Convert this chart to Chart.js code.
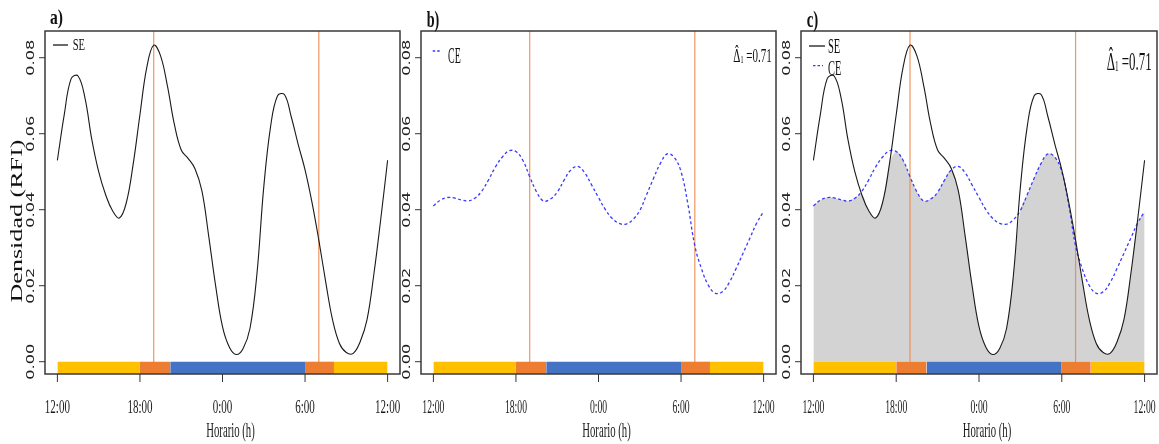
<!DOCTYPE html>
<html>
<head>
<meta charset="utf-8">
<script src="https://cdn.jsdelivr.net/npm/chart.js@4/dist/chart.umd.min.js"></script>
<style>
  html, body { margin: 0; padding: 0; background: #fff; }
  #wrap { position: relative; width: 1159px; height: 444px; overflow: hidden; }
  canvas { position: absolute; left: 0; top: 0; }
</style>
</head>
<body>
<div id="wrap">
  <canvas id="panelA" width="1159" height="444"></canvas>
  <canvas id="panelB" width="1159" height="444"></canvas>
  <canvas id="panelC" width="1159" height="444"></canvas>
</div>
<script>
// ---------------- DATA ----------------
const HOURS = [0, 0.5, 1, 1.5, 2, 2.5, 3, 3.5, 4, 4.5, 5, 5.5, 6, 6.5, 7, 7.5, 8, 8.5, 9, 9.5,
  10, 10.5, 11, 11.5, 12, 12.5, 13, 13.5, 14, 14.5, 15, 15.5, 16, 16.5, 17, 17.5, 18, 18.5, 19, 19.5,
  20, 20.5, 21, 21.5, 22, 22.5, 23, 23.5, 24];

// Density without eclipse (SE)
const SE_DENSITY = [0.0530, 0.0650, 0.0745, 0.0752, 0.0695, 0.0585, 0.0500, 0.0440, 0.0398, 0.0378,
  0.0417, 0.0518, 0.0650, 0.0775, 0.0833, 0.0805, 0.0725, 0.0625, 0.0557, 0.0535,
  0.0508, 0.0450, 0.0330, 0.0200, 0.0092, 0.0038, 0.0019, 0.0035, 0.0088, 0.0230,
  0.0460, 0.0620, 0.0700, 0.0703, 0.0644, 0.0572, 0.0505, 0.0420, 0.0320, 0.0210,
  0.0110, 0.0048, 0.0024, 0.0022, 0.0052, 0.0110, 0.0230, 0.0375, 0.0530];

// Density with eclipse (CE)
const CE_DENSITY = [0.0410, 0.0425, 0.0432, 0.0431, 0.0426, 0.0423, 0.0430, 0.0448, 0.0478, 0.0512,
  0.0538, 0.0555, 0.0553, 0.0530, 0.0487, 0.0447, 0.0423, 0.0428, 0.0446, 0.0478,
  0.0505, 0.0514, 0.0497, 0.0465, 0.0432, 0.0400, 0.0377, 0.0364, 0.0362, 0.0374,
  0.0398, 0.0440, 0.0483, 0.0522, 0.0547, 0.0538, 0.0500, 0.0414, 0.0305, 0.0243,
  0.0200, 0.0180, 0.0184, 0.0208, 0.0245, 0.0285, 0.0325, 0.0365, 0.0395];

const X_TICK_HOURS = [0, 6, 12, 18, 24];
const X_TICK_LABELS = ['12:00', '18:00', '0:00', '6:00', '12:00'];
const Y_TICK_VALUES = [0, 0.02, 0.04, 0.06, 0.08];
const Y_TICK_LABELS = ['0.00', '0.02', '0.04', '0.06', '0.08'];

const SUN_EVENT_HOURS = [7, 19];           // sunset 19:00, sunrise 7:00
const PHASE_START = [0, 6, 8.2, 18, 20.1];
const PHASE_END   = [6, 8.2, 18, 20.1, 24];
const PHASE_KIND  = ['dia', 'crepusculo', 'noche', 'crepusculo', 'dia'];

const OVERLAP_DELTA = 0.71;
const SERIES_NAMES = ['SE', 'CE'];

// ---------------- STYLE ----------------
const PHASE_COLORS = { dia: '#FFC000', crepusculo: '#ED7D31', noche: '#4472C4' };
const SE_COLOR = '#1a1a1a';
const CE_COLOR = '#3a3aff';
const SUN_LINE_COLOR = 'rgba(236,130,70,0.85)';
const OVERLAP_COLOR = '#D3D3D3';
const X_MIN = -0.9, X_MAX = 24.9;
const Y_MIN = -0.00324, Y_MAX = 0.08703;
const W = 1159, H = 444, TOP = 31, BOTTOM = 374;
const SERIF = '"Liberation Serif", "DejaVu Serif", serif';

function pts(ys) { return HOURS.map((h, i) => ({ x: h, y: ys[i] })); }

function drawText(ctx, s, x, y, o) {
  ctx.save();
  ctx.font = o.font;
  ctx.fillStyle = o.color || '#111';
  ctx.textAlign = o.align || 'left';
  ctx.textBaseline = o.baseline || 'alphabetic';
  const nat = ctx.measureText(s).width;
  const sx = o.width ? o.width / nat : (o.sx || 1);
  ctx.translate(x, y);
  if (o.rotate) ctx.rotate(-Math.PI / 2);
  ctx.scale(sx, o.sy || 1);
  ctx.fillText(s, 0, 0);
  ctx.restore();
  return { w: nat * sx, sx: sx };
}

function measure(ctx, s, font) {
  ctx.save(); ctx.font = font; const w = ctx.measureText(s).width; ctx.restore(); return w;
}

function drawDelta(ctx, d) {
  const big = d.size + 'px ' + SERIF;
  const small = Math.round(d.size * 0.55) + 'px ' + SERIF;
  const rest = ' =' + OVERLAP_DELTA.toFixed(2);
  const natTotal = measure(ctx, 'Δ', big) + measure(ctx, '1', small) + measure(ctx, rest, big);
  const sx = d.w / natTotal;
  let x = d.x;
  const dW = measure(ctx, 'Δ', big) * sx;
  drawText(ctx, 'Δ', x, d.y, { font: big, sx: sx });
  drawText(ctx, 'ˆ', x + dW / 2, d.y - d.size * 0.2, { font: big, align: 'center', sx: sx });
  x += dW;
  drawText(ctx, '1', x, d.y + d.size * 0.05, { font: small, sx: sx });
  x += measure(ctx, '1', small) * sx;
  drawText(ctx, rest, x, d.y, { font: big, sx: sx });
}

function makeDecor(spec) {
  return {
    id: 'decor',
    afterDraw(chart) {
      const { ctx, chartArea: a, scales: { x, y } } = chart;
      ctx.save();
      // frame
      ctx.strokeStyle = '#3a3a3a';
      ctx.lineWidth = 1.5;
      ctx.strokeRect(a.left, a.top, a.right - a.left, a.bottom - a.top);
      // y ticks and rotated labels
      ctx.lineWidth = 1;
      ctx.strokeStyle = '#333';
      Y_TICK_VALUES.forEach((v, i) => {
        const py = y.getPixelForValue(v);
        ctx.beginPath(); ctx.moveTo(a.left - 6, py); ctx.lineTo(a.left, py); ctx.stroke();
        drawText(ctx, Y_TICK_LABELS[i], a.left - 14, py, {
          font: '16px "DejaVu Sans", sans-serif', rotate: true, align: 'center',
          baseline: 'middle', width: 36, sy: 0.7, color: '#222' });
      });
      // x ticks and labels
      X_TICK_HOURS.forEach((h, i) => {
        const px = x.getPixelForValue(h);
        ctx.beginPath(); ctx.moveTo(px, a.bottom); ctx.lineTo(px, a.bottom + 8); ctx.stroke();
        drawText(ctx, X_TICK_LABELS[i], px, 413, {
          font: '19px ' + SERIF, align: 'center', sx: spec.tickSx, color: '#1a1a1a' });
      });
      // x title
      drawText(ctx, 'Horario (h)', (a.left + a.right) / 2 + 8, 436.5, {
        font: '21px ' + SERIF, align: 'center', width: 48.5, color: '#1a1a1a' });
      // y title
      if (spec.yTitle) {
        drawText(ctx, 'Densidad (RFI)', 17.5, 221, {
          font: '26px ' + SERIF, rotate: true, align: 'center', baseline: 'middle',
          width: 163, sy: 0.63, color: '#111' });
      }
      // panel label
      drawText(ctx, spec.label.text, spec.label.x, spec.label.y, {
        font: 'bold ' + spec.label.size + 'px ' + SERIF, width: spec.label.w, color: '#111' });
      // legend
      spec.legend.forEach(item => {
        ctx.save();
        ctx.beginPath();
        ctx.strokeStyle = item.color;
        ctx.lineWidth = 1.3;
        if (item.dash) ctx.setLineDash(item.dash);
        ctx.moveTo(item.x0, item.ly); ctx.lineTo(item.x1, item.ly); ctx.stroke();
        ctx.restore();
        drawText(ctx, item.name, item.tx, item.ty, {
          font: item.size + 'px ' + SERIF, width: item.tw, color: '#111' });
      });
      // overlap coefficient
      if (spec.delta) drawDelta(ctx, spec.delta);
      ctx.restore();
    }
  };
}

function sunLineDatasets() {
  return SUN_EVENT_HOURS.map(h => ({
    data: [{ x: h, y: Y_MIN }, { x: h, y: Y_MAX }],
    borderColor: SUN_LINE_COLOR, borderWidth: 1.2, pointRadius: 0, tension: 0, order: 4
  }));
}

function phaseDatasets() {
  return PHASE_START.map((s, i) => ({
    data: [{ x: s, y: 0 }, { x: PHASE_END[i], y: 0 }],
    borderColor: 'transparent', borderWidth: 0, pointRadius: 0, tension: 0,
    backgroundColor: PHASE_COLORS[PHASE_KIND[i]], fill: { value: Y_MIN }, order: 3
  }));
}

function seDataset() {
  return { data: pts(SE_DENSITY), borderColor: SE_COLOR, borderWidth: 1.1,
    pointRadius: 0, tension: 0.4, fill: false, order: 1 };
}
function ceDataset() {
  return { data: pts(CE_DENSITY), borderColor: CE_COLOR, borderWidth: 1.3,
    borderDash: [3, 2.5], pointRadius: 0, tension: 0.4, fill: false, order: 2 };
}
function overlapDataset() {
  return { data: HOURS.map((h, i) => ({ x: h, y: Math.min(SE_DENSITY[i], CE_DENSITY[i]) })),
    borderColor: 'transparent', borderWidth: 0, pointRadius: 0, tension: 0.4,
    backgroundColor: OVERLAP_COLOR, fill: 'origin', order: 5 };
}

function makeChart(id, left, right, datasets, spec) {
  return new Chart(document.getElementById(id), {
    type: 'line',
    data: { datasets },
    options: {
      responsive: false, animation: false, devicePixelRatio: 1,
      layout: { padding: { left: left, right: W - right, top: TOP, bottom: H - BOTTOM } },
      scales: {
        x: { type: 'linear', min: X_MIN, max: X_MAX, display: false },
        y: { type: 'linear', min: Y_MIN, max: Y_MAX, display: false }
      },
      plugins: { legend: { display: false }, tooltip: { enabled: false } },
      elements: { point: { radius: 0 } }
    },
    plugins: [makeDecor(spec)]
  });
}

// Panel a
makeChart('panelA', 45, 400,
  [seDataset(), ...phaseDatasets(), ...sunLineDatasets()],
  { tickSx: 0.58, yTitle: true,
    label: { text: 'a)', x: 50, y: 24, size: 21, w: 13 },
    legend: [{ name: SERIES_NAMES[0], color: SE_COLOR, x0: 53, x1: 68, ly: 45, tx: 72.7, ty: 50, size: 17, tw: 12.3 }] });

// Panel b
makeChart('panelB', 421, 776,
  [ceDataset(), ...phaseDatasets(), ...sunLineDatasets()],
  { tickSx: 0.51, yTitle: false,
    label: { text: 'b)', x: 426.7, y: 27, size: 23, w: 12.6 },
    legend: [{ name: SERIES_NAMES[1], color: CE_COLOR, dash: [2.5, 2], x0: 432.7, x1: 440, ly: 51, tx: 448, ty: 63, size: 24, tw: 12.7 }],
    delta: { x: 733.3, y: 61.7, size: 18, w: 38.4 } });

// Panel c
makeChart('panelC', 801, 1157,
  [seDataset(), ceDataset(), ...phaseDatasets(), ...sunLineDatasets(), overlapDataset()],
  { tickSx: 0.51, yTitle: false,
    label: { text: 'c)', x: 806.7, y: 27, size: 23, w: 11.6 },
    legend: [
      { name: SERIES_NAMES[0], color: SE_COLOR, x0: 809, x1: 825, ly: 46, tx: 828, ty: 53, size: 21, tw: 12.3 },
      { name: SERIES_NAMES[1], color: CE_COLOR, dash: [2.5, 2], x0: 813, x1: 823, ly: 65.7, tx: 828, ty: 75, size: 22, tw: 13.3 }
    ],
    delta: { x: 1106.7, y: 70, size: 25, w: 45 } });
</script>
</body>
</html>
